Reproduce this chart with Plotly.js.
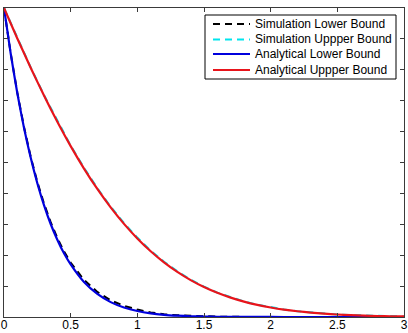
<!DOCTYPE html>
<html>
<head>
<meta charset="utf-8">
<script src="https://cdn.plot.ly/plotly-3.0.1.min.js"></script>
<style>html,body{margin:0;padding:0;background:#fff;}#chart{width:408px;height:333px;}</style>
</head>
<body>
<div id="chart"></div>
<script>
// Data
const xFine = [0, 0.05, 0.1, 0.15, 0.2, 0.25, 0.3, 0.35, 0.4, 0.45, 0.5, 0.6, 0.7, 0.8, 0.9, 1.0, 1.1, 1.2, 1.3, 1.4, 1.5, 1.6, 1.8, 2.0, 2.2, 2.4, 2.6, 2.8, 3.0];
const simLower = [1, 0.854, 0.726, 0.615, 0.519, 0.437, 0.367, 0.307, 0.256, 0.212, 0.176, 0.120, 0.081, 0.054, 0.036, 0.024, 0.015, 0.009, 0.0055, 0.0032, 0.0019, 0.0010, 0.0003, 0.0001, 0, 0, 0, 0, 0];
const anaLower = [1, 0.853, 0.724, 0.612, 0.516, 0.433, 0.362, 0.301, 0.250, 0.206, 0.170, 0.113, 0.0745, 0.0482, 0.0307, 0.0193, 0.0119, 0.0072, 0.0043, 0.0025, 0.0015, 0.0008, 0.0002, 0.0001, 0, 0, 0, 0, 0];

const xCoarse = [0, 0.1, 0.2, 0.3, 0.4, 0.5, 0.6, 0.7, 0.8, 0.9, 1.0, 1.1, 1.2, 1.3, 1.4, 1.5, 1.6, 1.7, 1.8, 1.9, 2.0, 2.1, 2.2, 2.3, 2.4, 2.5, 2.6, 2.7, 2.8, 2.9, 3.0];
const simUpper = [1, 0.902, 0.808, 0.718, 0.634, 0.555, 0.483, 0.417, 0.357, 0.304, 0.257, 0.215, 0.179, 0.148, 0.121, 0.098, 0.079, 0.0635, 0.0505, 0.0398, 0.0312, 0.0242, 0.0187, 0.0144, 0.0110, 0.0082, 0.0062, 0.0046, 0.0034, 0.0025, 0.0018];
const anaUpper = [1, 0.9015, 0.8067, 0.7165, 0.6318, 0.5529, 0.4804, 0.4143, 0.3546, 0.3013, 0.2541, 0.2127, 0.1768, 0.1458, 0.1194, 0.0970, 0.0783, 0.0627, 0.0498, 0.0393, 0.0308, 0.0239, 0.0185, 0.0142, 0.0108, 0.0081, 0.0061, 0.0045, 0.0033, 0.0024, 0.0018];

const xTicks = [0, 0.5, 1, 1.5, 2, 2.5, 3];
const xTickText = ['0', '0.5', '1', '1.5', '2', '2.5', '3'];

const names = ['Simulation Lower Bound', 'Simulation Uppper Bound', 'Analytical Lower Bound', 'Analytical Uppper Bound'];
const colors = ['#000000', '#00e5ee', '#0000dd', '#e8141b'];
const dashes = ['7px,5px', '7px,5px', 'solid', 'solid'];

const FONT = 'Liberation Sans, Arial, sans-serif';

const traces = [
  {x: xFine, y: simLower, name: names[0], mode: 'lines', showlegend: false, line: {color: colors[0], width: 2, dash: dashes[0]}},
  {x: xCoarse, y: simUpper, name: names[1], mode: 'lines', showlegend: false, line: {color: colors[1], width: 2, dash: dashes[1]}},
  {x: xFine, y: anaLower, name: names[2], mode: 'lines', showlegend: false, line: {color: colors[2], width: 2.2, shape: 'spline', smoothing: 0.6}},
  {x: xCoarse, y: anaUpper, name: names[3], mode: 'lines', showlegend: false, line: {color: colors[3], width: 2.2, shape: 'spline', smoothing: 0.6}}
];

// Legend (MATLAB-style compact box) built from the names/colours above
const legRows = [0.9482, 0.8981, 0.8511, 0.7994];
const shapes = [{type: 'rect', xref: 'paper', yref: 'paper', x0: 0.5025, x1: 0.98, y0: 0.7702, y1: 0.9773,
  line: {color: '#000', width: 1}, fillcolor: '#fff', layer: 'above'}];
const annotations = [];
names.forEach((n, i) => {
  shapes.push({type: 'line', xref: 'paper', yref: 'paper', x0: 0.5225, x1: 0.615, y0: legRows[i], y1: legRows[i],
    line: {color: colors[i], width: 2, dash: dashes[i]}, layer: 'above'});
  annotations.push({xref: 'paper', yref: 'paper', x: 0.622, y: legRows[i], xanchor: 'left', yanchor: 'middle',
    text: n, showarrow: false, font: {family: FONT, size: 12, color: '#000'}});
});

const axisCommon = {
  showline: true, linecolor: '#3a3a3a', linewidth: 1, mirror: 'ticks',
  ticks: 'inside', ticklen: 4, tickcolor: '#3a3a3a', tickwidth: 1,
  showgrid: false, zeroline: false,
  tickfont: {family: FONT, size: 12, color: '#000'}
};

const layout = {
  width: 408, height: 333,
  margin: {l: 4, r: 4, t: 8, b: 16, pad: 0},
  paper_bgcolor: '#fff', plot_bgcolor: '#fff',
  showlegend: false,
  xaxis: Object.assign({}, axisCommon, {range: [0, 3], tickvals: xTicks, ticktext: xTickText, ticklabelstandoff: -3}),
  yaxis: Object.assign({}, axisCommon, {range: [0, 1], dtick: 0.1, showticklabels: false}),
  shapes: shapes,
  annotations: annotations
};

Plotly.newPlot('chart', traces, layout, {displayModeBar: false, staticPlot: true});
</script>
</body>
</html>
